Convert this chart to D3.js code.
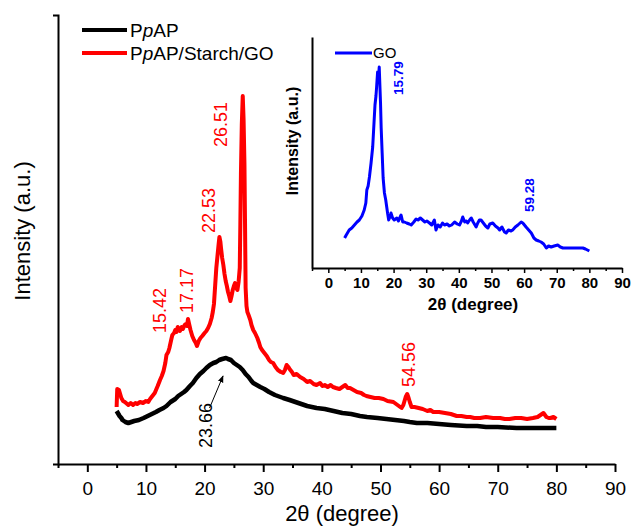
<!DOCTYPE html>
<html><head><meta charset="utf-8">
<script src="https://cdn.jsdelivr.net/npm/d3@7"></script>
<style>
html,body{margin:0;padding:0;background:#fff;}
svg{display:block;font-family:"Liberation Sans",Arial,sans-serif;}
</style></head>
<body>
<svg id="chart" width="631" height="528"></svg>
<script>
// ---------- DATA ----------
const seriesNames = ["PpAP", "PpAP/Starch/GO"];
const xTicksMain = [-5,0,5,10,15,20,25,30,35,40,45,50,55,60,65,70,75,80,85,90];
// [2theta, intensity (a.u.)]
const ppap = [[5.0,53],[5.3,50],[5.5,48],[5.8,46],[6.0,44],[6.5,42],[7.0,41],[7.5,42],[8.0,43],[8.8,44],[9.6,46],[10.3,48],[11.0,50],[11.7,52],[12.3,54],[13.0,56],[13.5,58],[14.2,62],[15.0,65],[15.5,68],[16.0,70],[16.5,72],[16.9,74],[17.5,78],[18.0,81],[18.6,86],[19.2,90],[19.8,93],[20.3,96],[20.9,99],[21.5,101],[22.0,102],[22.5,104],[23.0,105],[23.66,106],[24.0,105],[24.5,104],[25.0,101],[25.5,99],[26.0,97],[26.5,94],[27.0,90],[27.5,87],[28.0,83],[28.3,81],[28.9,79],[29.5,77],[30.2,75],[31.0,72],[32.0,69],[33.4,66],[34.5,64],[36.0,61],[37.5,58],[39.1,56],[40.5,55],[42.0,53],[43.5,51],[45.0,50],[46.5,48],[47.7,47],[49.5,46],[51.0,45],[52.5,44],[54.0,43],[55.0,42],[56.2,41],[58.0,41],[60.0,40],[62.0,39],[64.7,38],[66.5,38],[68.0,37],[70.0,37],[73.2,36],[75.0,36],[77.0,36],[78.5,36],[80.0,36]];
const ppapStarchGO = [[5.0,57],[5.1,75],[5.4,74],[5.8,66],[6.1,63],[6.4,62],[6.8,60],[7.0,59],[7.4,61],[7.8,59],[8.2,61],[8.5,60],[9.0,62],[9.5,61],[10.0,63],[10.4,62],[10.7,65],[11.1,68],[11.5,71],[12.0,78],[12.4,84],[12.7,88],[13.0,93],[13.3,101],[13.5,109],[13.8,112],[14.0,116],[14.3,124],[14.5,129],[14.8,131],[15.0,134],[15.2,132],[15.42,137],[15.6,134],[15.8,133],[16.1,137],[16.3,135],[16.6,139],[16.8,140],[17.0,138],[17.17,145],[17.4,139],[17.6,134],[17.9,128],[18.2,124],[18.5,121],[18.7,118],[19.0,123],[19.3,126],[19.6,128],[20.0,131],[20.3,133],[20.6,136],[20.9,140],[21.2,146],[21.4,152],[21.6,160],[21.8,178],[22.0,196],[22.2,208],[22.3,214],[22.4,220],[22.53,227],[22.7,222],[22.8,216],[23.0,206],[23.2,199],[23.4,190],[23.6,183],[23.8,178],[24.0,172],[24.2,168],[24.4,163],[24.6,168],[24.8,174],[25.0,178],[25.2,181],[25.4,176],[25.6,174],[25.8,182],[26.0,196],[26.1,240],[26.2,290],[26.35,340],[26.51,368],[26.65,345],[26.8,300],[26.9,240],[27.0,176],[27.15,158],[27.3,152],[27.5,149],[27.8,144],[28.0,139],[28.3,134],[28.6,131],[29.0,126],[29.3,121],[29.5,117],[29.8,114],[30.2,111],[30.6,108],[31.0,104],[31.3,102],[31.7,101],[32.1,97],[32.5,94],[33.0,92],[33.4,91],[33.7,94],[34.0,99],[34.3,97],[34.5,95],[34.9,92],[35.2,89],[35.7,90],[36.3,87],[36.9,85],[37.5,82],[38.0,83],[38.6,80],[39.1,79],[39.7,81],[40.1,78],[40.5,79],[41.0,77],[41.5,79],[41.9,77],[42.4,76],[43.0,75],[43.5,77],[44.0,79],[44.4,76],[44.8,76],[45.4,74],[46.0,72],[46.7,71],[47.2,69],[47.6,68],[48.3,67],[49.0,66],[49.7,66],[50.5,65],[51.2,63],[52.2,62],[52.9,59],[53.6,56],[53.9,59],[54.1,63],[54.3,67],[54.56,70],[54.8,66],[55.0,62],[55.3,57],[55.8,57],[56.5,56],[57.2,55],[58.0,53],[58.5,54],[59.0,52],[60.0,52],[61.0,51],[62.0,50],[63.0,48],[63.8,48],[64.7,47],[65.3,47],[66.0,46],[67.0,46],[68.0,47],[69.2,46],[70.4,46],[71.2,45],[72.0,45],[73.0,46],[74.0,46],[75.0,45],[76.0,46],[76.8,47],[77.3,49],[77.8,51],[78.3,47],[78.7,46],[79.0,46],[79.5,47],[80.0,45]];
const peakLabelsMain = ["15.42","17.17","22.53","26.51","54.56"];
const peakThetaMain = [15.42,17.17,22.53,26.51,54.56];
const ppapPeakLabel = "23.66";
const ppapPeakTheta = 23.66;

// Inset (GO)
const insetName = "GO";
const xTicksInset = [-5,0,5,10,15,20,25,30,35,40,45,50,55,60,65,70,75,80,85,90];
const go = [[5.0,30],[5.5,33],[6.4,38],[7.2,40],[8.0,43],[8.8,46],[9.5,48],[10.3,52],[11.0,58],[11.5,65],[11.8,78],[12.2,82],[12.6,91],[13.1,105],[13.6,121],[14.0,145],[14.3,163],[14.6,172],[14.8,181],[15.1,196],[15.3,186],[15.6,201],[16.0,165],[16.2,140],[16.5,115],[16.8,90],[17.2,75],[17.6,68],[17.9,61],[18.2,54],[18.5,48],[19.0,52],[19.2,55],[19.7,50],[20.2,48],[21.0,50],[21.5,47],[22.0,51],[22.3,53],[22.8,46],[23.3,46],[24.0,45],[24.8,44],[25.4,43],[26.2,46],[26.9,49],[27.5,48],[28.2,50],[28.9,48],[29.6,46],[30.2,47],[31.0,45],[31.7,43],[32.5,48],[33.0,38],[33.6,43],[34.3,41],[35.0,45],[35.6,43],[36.4,44],[37.1,42],[37.8,43],[38.7,46],[39.5,44],[40.2,43],[40.8,47],[41.2,51],[41.8,46],[42.3,47],[42.7,45],[43.3,48],[43.8,50],[44.4,46],[45.3,41],[45.8,45],[46.3,48],[46.8,48],[47.5,45],[48.2,42],[48.9,40],[49.5,44],[50.4,45],[51.2,42],[52.0,40],[52.5,38],[53.2,41],[54.0,36],[54.5,35],[55.2,38],[56.0,37],[56.5,38],[57.3,41],[58.1,43],[59.1,46],[59.6,45],[60.6,41],[61.4,38],[62.2,35],[63.0,30],[63.7,28],[64.5,27],[65.2,26],[66.0,24],[66.8,20],[67.5,22],[68.3,21],[69.2,22],[70.3,23],[71.1,21],[71.9,20],[72.8,20],[73.9,20],[75.0,20],[76.5,20],[78.0,20],[78.8,19],[80.0,17]];
const peakLabelsInset = ["15.79","59.28"];
const peakThetaInset = [15.6,59.1];

// ---------- DRAWING ----------
const svg = d3.select("#chart");
const FONT = '"Liberation Sans",Arial,sans-serif';

const x = d3.scaleLinear().domain([-5,90]).range([58,615]);
const y = d3.scaleLinear().domain([0,449]).range([464,15]);

function valueAt(series, t){
  let best = series[0];
  for (const p of series) if (Math.abs(p[0]-t) < Math.abs(best[0]-t)) best = p;
  return best[1];
}

// main x axis
const gx = svg.append("g").attr("transform","translate(0,464)")
  .call(d3.axisBottom(x).tickValues(xTicksMain).tickSizeOuter(0)
    .tickFormat(d => d % 10 === 0 ? d : ""));
gx.select(".domain").attr("stroke","#000").attr("stroke-width",2);
gx.selectAll(".tick line").attr("stroke","#000").attr("stroke-width",2)
  .attr("y2", d => d % 10 === 0 ? 8 : 4);
gx.selectAll(".tick text").attr("y",31).attr("dy",0)
  .attr("font-family",FONT).attr("font-size",19).attr("fill","#000");

// main y axis (no inner ticks, outer ticks)
const gy = svg.append("g").attr("transform","translate(58,0)")
  .call(d3.axisLeft(y).tickValues([]).tickSizeOuter(5));
gy.select(".domain").attr("stroke","#000").attr("stroke-width",2);

// axis titles
svg.append("text").attr("x",342).attr("y",521).attr("text-anchor","middle")
  .attr("font-family",FONT).attr("font-size",22).text("2θ (degree)");
svg.append("text").attr("transform","translate(22,231) rotate(-90)")
  .attr("text-anchor","middle").attr("dy","0.35em")
  .attr("font-family",FONT).attr("font-size",22).text("Intensity (a.u.)");

// lines
const line = d3.line().x(d => x(d[0])).y(d => y(d[1]));
svg.append("path").datum(ppapStarchGO).attr("d",line).attr("fill","none")
  .attr("stroke","#ff0000").attr("stroke-width",4).attr("stroke-linejoin","round");
svg.append("path").datum(ppap).attr("d",line).attr("fill","none")
  .attr("stroke","#000").attr("stroke-width",4.5).attr("stroke-linejoin","round");

// peak labels (main, red)
const mainOffsets = [[-18,6],[-1,-6],[-11,-4],[-22,51],[1,-7]];
peakThetaMain.forEach((t,i) => {
  const px = x(t) + mainOffsets[i][0];
  const py = y(valueAt(ppapStarchGO,t)) + mainOffsets[i][1];
  svg.append("text").attr("transform",`translate(${px},${py}) rotate(-90)`)
    .attr("dy","0.35em").attr("font-family",FONT).attr("font-size",18)
    .attr("fill","#ff0000").text(peakLabelsMain[i]);
});

// 23.66 label with arrow
svg.append("defs").append("marker").attr("id","arr").attr("viewBox","0 0 10 10")
  .attr("refX",9).attr("refY",5).attr("markerWidth",7).attr("markerHeight",7)
  .attr("orient","auto-start-reverse")
  .append("path").attr("d","M0,1 L10,5 L0,9 Z").attr("fill","#000");
{
  const px = x(ppapPeakTheta), py = y(valueAt(ppap,ppapPeakTheta));
  svg.append("text").attr("transform",`translate(${px-20.5},${py+90}) rotate(-90)`)
    .attr("dy","0.35em").attr("font-family",FONT).attr("font-size",18)
    .attr("fill","#000").text(ppapPeakLabel);
  svg.append("line").attr("x1",px-16.5).attr("y1",py+50).attr("x2",px-3).attr("y2",py+18)
    .attr("stroke","#000").attr("stroke-width",1).attr("marker-end","url(#arr)");
}

// legend
const legendColors = ["#000","#ff0000"];
seriesNames.forEach((n,i) => {
  const ly = 30 + i*23;
  svg.append("line").attr("x1",82).attr("x2",127).attr("y1",ly).attr("y2",ly)
    .attr("stroke",legendColors[i]).attr("stroke-width",4);
  const t = svg.append("text").attr("x",130).attr("y",ly+7)
    .attr("font-family",FONT).attr("font-size",19).attr("fill","#000");
  t.append("tspan").text("P");
  t.append("tspan").attr("font-style","italic").text("p");
  t.append("tspan").text(n.slice(2));
});

// ---------- INSET ----------
const xi = d3.scaleLinear().domain([-5,90]).range([312,622]);
const yi = d3.scaleLinear().domain([0,231]).range([268,37]);

const gxi = svg.append("g").attr("transform","translate(0,268)")
  .call(d3.axisBottom(xi).tickValues(xTicksInset).tickSizeOuter(0)
    .tickFormat(d => d % 10 === 0 ? d : ""));
gxi.select(".domain").attr("stroke","#000").attr("stroke-width",2);
gxi.selectAll(".tick line").attr("stroke","#000").attr("stroke-width",1.5)
  .attr("y2", d => d % 10 === 0 ? 5 : 3);
gxi.selectAll(".tick text").attr("y",20).attr("dy",0)
  .attr("font-family",FONT).attr("font-size",15).attr("font-weight","bold").attr("fill","#000");

const gyi = svg.append("g").attr("transform","translate(312,0)")
  .call(d3.axisLeft(yi).tickValues([]).tickSizeOuter(0));
gyi.select(".domain").attr("stroke","#000").attr("stroke-width",2);

svg.append("text").attr("x",473).attr("y",310).attr("text-anchor","middle")
  .attr("font-family",FONT).attr("font-size",17).attr("font-weight","bold").text("2θ (degree)");
svg.append("text").attr("transform","translate(292,141) rotate(-90)")
  .attr("text-anchor","middle").attr("dy","0.35em")
  .attr("font-family",FONT).attr("font-size",16).attr("font-weight","bold").text("Intensity (a.u.)");

const linei = d3.line().x(d => xi(d[0])).y(d => yi(d[1]));
svg.append("path").datum(go).attr("d",linei).attr("fill","none")
  .attr("stroke","#0000ff").attr("stroke-width",3).attr("stroke-linejoin","round");

const insetOffsets = [[19,28],[8,-10]];
peakThetaInset.forEach((t,i) => {
  const px = xi(t) + insetOffsets[i][0];
  const py = yi(valueAt(go,t)) + insetOffsets[i][1];
  svg.append("text").attr("transform",`translate(${px},${py}) rotate(-90)`)
    .attr("dy","0.35em").attr("font-family",FONT).attr("font-size",13.5)
    .attr("font-weight","bold").attr("fill","#0000ff").text(peakLabelsInset[i]);
});

svg.append("line").attr("x1",335).attr("x2",372).attr("y1",53).attr("y2",53)
  .attr("stroke","#0000ff").attr("stroke-width",3);
svg.append("text").attr("x",373).attr("y",58).attr("font-family",FONT)
  .attr("font-size",15).attr("fill","#000").text(insetName);
</script>
</body></html>
